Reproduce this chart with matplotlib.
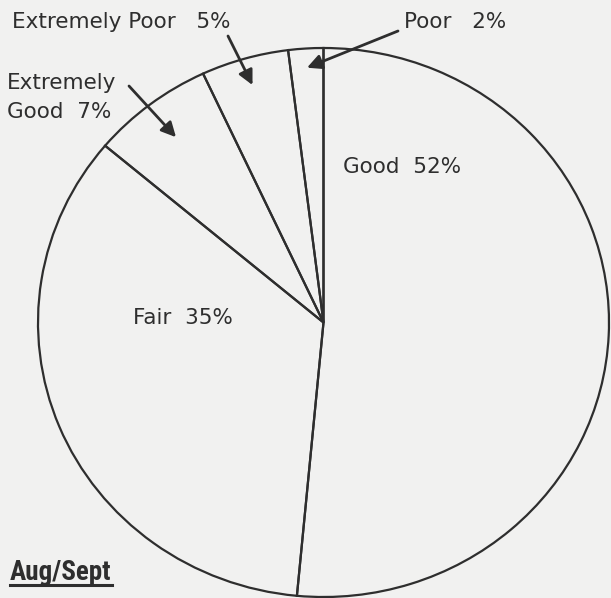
import matplotlib
matplotlib.use("Agg")
import matplotlib.pyplot as plt
from matplotlib import font_manager
import numpy as np

# ---- data ----
categories = ["Good", "Fair", "Extremely Good", "Extremely Poor", "Poor"]
values = [52, 35, 7, 5, 2]
title = "Aug/Sept"

W, H = 611, 598
BG = "#f1f1f0"
INK = "#2e2e2e"

fig = plt.figure(figsize=(W / 100, H / 100), dpi=100, facecolor=BG)

def fx(px):
    return px / W

def fy(py):
    return 1 - py / H

# pie occupies an elliptical region (slightly wider than tall, as in the scan)
left, right, top, bottom = 38, 609, 48, 597
ax = fig.add_axes([fx(left), fy(bottom), (right - left) / W, (bottom - top) / H])
ax.set_facecolor("none")
wedges, _ = ax.pie(values, startangle=90, counterclock=False, radius=1,
                   wedgeprops=dict(fill=False, edgecolor=INK, linewidth=1.6))
for w in wedges:
    w.set_clip_on(False)
ax.set_aspect("auto")
ax.set_xlim(-1, 1)
ax.set_ylim(-1, 1)
ax.axis("off")

font = dict(family="DejaVu Sans", color=INK, fontsize=15.5)

# labels inside the pie
fig.text(fx(343), fy(173), f"{categories[0]}  {values[0]}%", ha="left", va="baseline", **font)
fig.text(fx(133), fy(324), f"{categories[1]}  {values[1]}%", ha="left", va="baseline", **font)

def wedge_point(i, r):
    w = wedges[i]
    th = np.deg2rad((w.theta1 + w.theta2) / 2)
    return (r * np.cos(th), r * np.sin(th))

arrow = dict(arrowstyle="-|>", color=INK, lw=2.0, mutation_scale=22,
             shrinkA=0, shrinkB=0)

fig.text(fx(12), fy(28), f"{categories[3]}   {values[3]}%", ha="left", va="baseline", **font)
ax.annotate("", xy=wedge_point(3, 0.9), xycoords="data",
            xytext=(228, H - 36), textcoords="figure pixels",
            arrowprops=arrow, annotation_clip=False)

fig.text(fx(404), fy(28), f"{categories[4]}   {values[4]}%", ha="left", va="baseline", **font)
ax.annotate("", xy=wedge_point(4, 0.93), xycoords="data",
            xytext=(398, H - 31), textcoords="figure pixels",
            arrowprops=arrow, annotation_clip=False)

fig.text(fx(7), fy(89), "Extremely", ha="left", va="baseline", **font)
fig.text(fx(7), fy(118), f"Good  {values[2]}%", ha="left", va="baseline", **font)
ax.annotate("", xy=wedge_point(2, 0.85), xycoords="data",
            xytext=(129, H - 86), textcoords="figure pixels",
            arrowprops=arrow, annotation_clip=False)

# title, bold condensed and underlined
names = {f.name for f in font_manager.fontManager.ttflist}
fam = "DejaVu Sans"
for cand in ["Liberation Sans Narrow", "DejaVu Sans Condensed", "Roboto Condensed"]:
    if cand in names:
        fam = cand
        break
t = fig.text(fx(10), fy(580), title, ha="left", va="baseline",
             family=fam, fontweight="bold", fontstretch="condensed",
             fontsize=20, color=INK)
fig.canvas.draw()
# shrink to the narrow width of the original heading if needed
target = 102
size = 20
while t.get_window_extent().width > target and size > 12:
    size -= 0.5
    t.set_fontsize(size)
    fig.canvas.draw()
bb = t.get_window_extent()
fig.add_artist(plt.Line2D([bb.x0 / W, bb.x1 / W], [fy(585), fy(585)],
                          transform=fig.transFigure, color=INK, lw=2.2))

fig.savefig("out.png", dpi=100, facecolor=BG)
